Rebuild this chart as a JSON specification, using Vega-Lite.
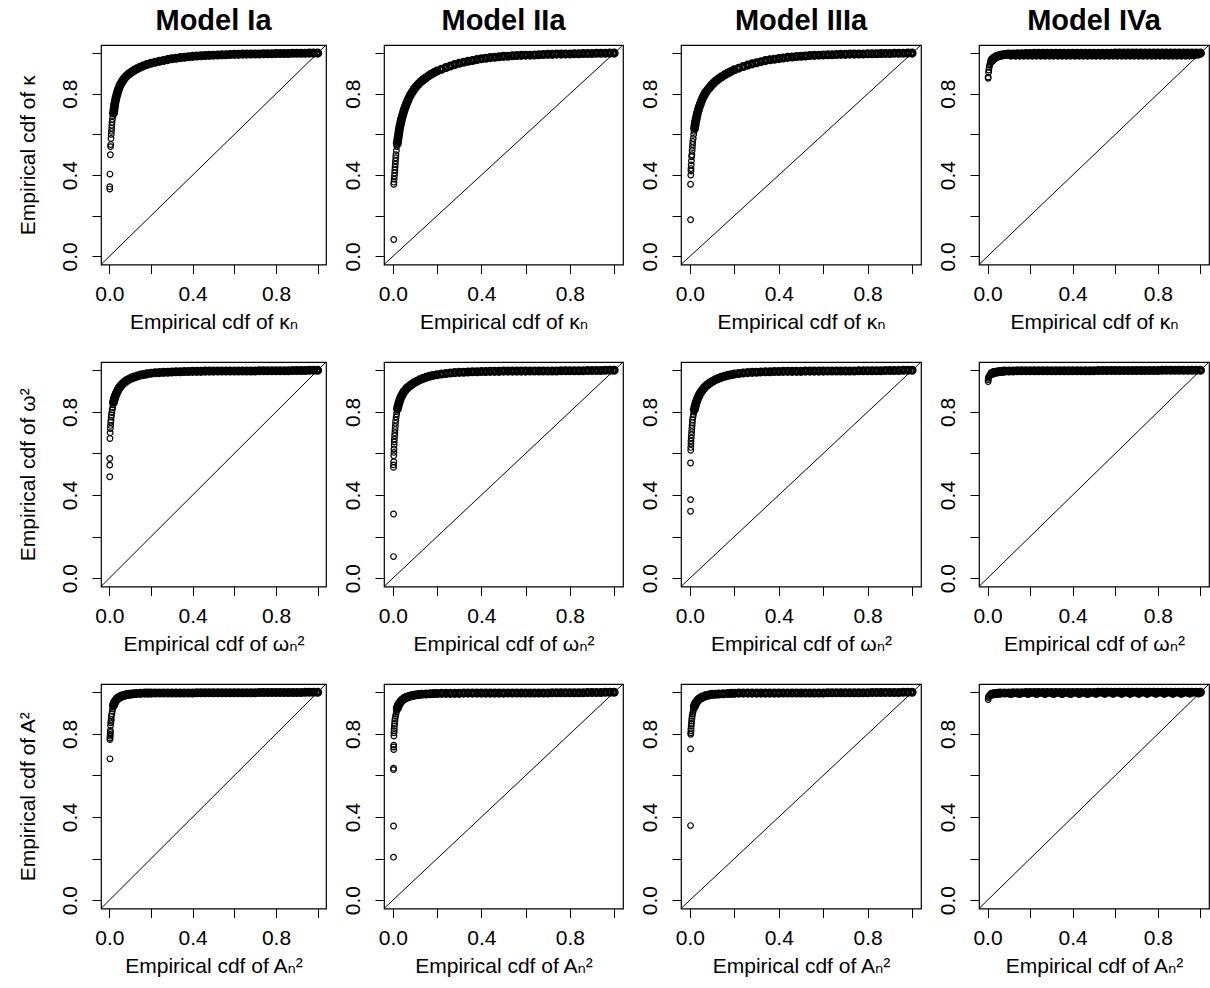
{
"$schema": "https://vega.github.io/schema/vega-lite/v6.json",
"padding": {"left": 16, "top": 6, "right": 0, "bottom": 0},
"background": "white",
"config": {
 "view": {"stroke": "black", "strokeWidth": 1.2},
 "font": "Liberation Sans",
 "axis": {"domain": false, "grid": false, "tickColor": "black", "tickSize": 9, "tickWidth": 1, "tickCount": 6,
  "labelExpr": "abs(datum.value) < 0.001 || abs(datum.value - 0.4) < 0.001 || abs(datum.value - 0.8) < 0.001 ? format(datum.value, '.1f') : ''",
  "labelFont": "Liberation Sans", "labelFontSize": 21, "labelColor": "black", "labelFlush": false, "labelOverlap": false,
  "titleFont": "Liberation Sans, DejaVu Sans", "titleFontSize": 21, "titleFontWeight": "normal", "titleColor": "black",
  "minExtent": 40, "maxExtent": 40, "titleBaseline": "alphabetic"},
 "axisX": {"labelPadding": 10, "labelBaseline": "top", "labelAngle": 0, "titlePadding": 24},
 "axisY": {"labelAngle": -90, "labelAlign": "center", "labelBaseline": "alphabetic", "labelPadding": 16, "titlePadding": 27, "titleAngle": -90},
 "title": {"font": "Liberation Sans", "fontSize": 29, "fontWeight": "bold", "color": "black", "anchor": "middle", "frame": "group", "baseline": "alphabetic", "offset": 7}
},
"datasets": {
 "diag": [{"x": -0.04, "y": -0.04}, {"x": 1.04, "y": 1.04}],
 "a11": [
  {"x":0.002,"y":0.331},{"x":0.002,"y":0.343},{"x":0.003,"y":0.405},{"x":0.005,"y":0.5},{"x":0.006,"y":0.54},{"x":0.007,"y":0.55},{"x":0.008,"y":0.58},{"x":0.009,"y":0.6},{"x":0.01,"y":0.615},{"x":0.011,"y":0.63},{"x":0.012,"y":0.645},{"x":0.013,"y":0.66},{"x":0.015,"y":0.675},{"x":0.017,"y":0.69},
  {"x":0.02,"y":0.705},{"x":0.022,"y":0.72},{"x":0.024,"y":0.735},{"x":0.026,"y":0.75},{"x":0.029,"y":0.765},{"x":0.032,"y":0.78},{"x":0.036,"y":0.795},{"x":0.04,"y":0.81},{"x":0.045,"y":0.825},{"x":0.05,"y":0.838},{"x":0.056,"y":0.85},{"x":0.063,"y":0.862},{"x":0.07,"y":0.873},{"x":0.078,"y":0.883},{"x":0.087,"y":0.892},{"x":0.097,"y":0.9},{"x":0.108,"y":0.908},{"x":0.12,"y":0.916},{"x":0.133,"y":0.923},{"x":0.147,"y":0.93},{"x":0.162,"y":0.937},{"x":0.18,"y":0.944},{"x":0.2,"y":0.95},
  {"x":0.22,"y":0.955},{"x":0.24,"y":0.96},{"x":0.26,"y":0.964},{"x":0.28,"y":0.968},{"x":0.3,"y":0.972},{"x":0.32,"y":0.975},{"x":0.34,"y":0.978},{"x":0.36,"y":0.98},{"x":0.38,"y":0.982},{"x":0.4,"y":0.984},{"x":0.42,"y":0.986},{"x":0.44,"y":0.987},{"x":0.46,"y":0.988},{"x":0.48,"y":0.989},{"x":0.5,"y":0.99},{"x":0.52,"y":0.991},{"x":0.54,"y":0.992},{"x":0.56,"y":0.992},{"x":0.58,"y":0.993},{"x":0.6,"y":0.994},{"x":0.62,"y":0.994},{"x":0.64,"y":0.995},{"x":0.66,"y":0.995},{"x":0.68,"y":0.996},{"x":0.7,"y":0.996},{"x":0.72,"y":0.996},{"x":0.74,"y":0.997},{"x":0.76,"y":0.997},{"x":0.78,"y":0.997},{"x":0.8,"y":0.998},{"x":0.82,"y":0.998},{"x":0.84,"y":0.998},{"x":0.86,"y":0.998},{"x":0.88,"y":0.999},{"x":0.9,"y":0.999},{"x":0.92,"y":0.999},{"x":0.94,"y":0.999},{"x":0.96,"y":1},{"x":0.98,"y":1},{"x":1,"y":1}
 ],
 "a12": [
  {"x":0.004,"y":0.083},{"x":0.004,"y":0.355},{"x":0.005,"y":0.365},{"x":0.006,"y":0.38},{"x":0.007,"y":0.395},{"x":0.008,"y":0.41},{"x":0.009,"y":0.425},{"x":0.01,"y":0.44},{"x":0.011,"y":0.455},{"x":0.012,"y":0.47},{"x":0.013,"y":0.485},{"x":0.014,"y":0.5},{"x":0.016,"y":0.52},{"x":0.018,"y":0.54},
  {"x":0.02,"y":0.555},{"x":0.022,"y":0.57},{"x":0.024,"y":0.585},{"x":0.026,"y":0.6},{"x":0.028,"y":0.615},{"x":0.03,"y":0.63},{"x":0.033,"y":0.645},{"x":0.036,"y":0.66},{"x":0.039,"y":0.675},{"x":0.043,"y":0.69},{"x":0.047,"y":0.705},{"x":0.051,"y":0.72},{"x":0.056,"y":0.735},{"x":0.061,"y":0.75},{"x":0.067,"y":0.765},{"x":0.073,"y":0.78},{"x":0.08,"y":0.795},{"x":0.088,"y":0.809},{"x":0.096,"y":0.822},{"x":0.105,"y":0.835},{"x":0.115,"y":0.847},{"x":0.125,"y":0.858},{"x":0.136,"y":0.868},{"x":0.148,"y":0.878},{"x":0.16,"y":0.887},{"x":0.173,"y":0.896},{"x":0.186,"y":0.904},{"x":0.2,"y":0.912},
  {"x":0.22,"y":0.921},{"x":0.24,"y":0.929},{"x":0.26,"y":0.937},{"x":0.28,"y":0.944},{"x":0.3,"y":0.95},{"x":0.32,"y":0.955},{"x":0.34,"y":0.96},{"x":0.36,"y":0.964},{"x":0.38,"y":0.968},{"x":0.4,"y":0.972},{"x":0.42,"y":0.975},{"x":0.44,"y":0.978},{"x":0.46,"y":0.98},{"x":0.48,"y":0.982},{"x":0.5,"y":0.984},{"x":0.52,"y":0.985},{"x":0.54,"y":0.987},{"x":0.56,"y":0.988},{"x":0.58,"y":0.989},{"x":0.6,"y":0.99},{"x":0.62,"y":0.99},{"x":0.64,"y":0.991},{"x":0.66,"y":0.992},{"x":0.68,"y":0.993},{"x":0.7,"y":0.994},{"x":0.72,"y":0.994},{"x":0.74,"y":0.995},{"x":0.76,"y":0.995},{"x":0.78,"y":0.996},{"x":0.8,"y":0.996},{"x":0.82,"y":0.997},{"x":0.84,"y":0.997},{"x":0.86,"y":0.998},{"x":0.88,"y":0.998},{"x":0.9,"y":0.998},{"x":0.92,"y":0.999},{"x":0.94,"y":0.999},{"x":0.96,"y":0.999},{"x":0.98,"y":1},{"x":1,"y":1}
 ],
 "a13": [
  {"x":0.003,"y":0.18},{"x":0.003,"y":0.355},{"x":0.004,"y":0.4},{"x":0.005,"y":0.42},{"x":0.005,"y":0.432},{"x":0.006,"y":0.45},{"x":0.007,"y":0.47},{"x":0.008,"y":0.49},{"x":0.009,"y":0.5},{"x":0.01,"y":0.52},{"x":0.011,"y":0.535},{"x":0.012,"y":0.55},{"x":0.013,"y":0.565},{"x":0.015,"y":0.58},{"x":0.017,"y":0.6},{"x":0.019,"y":0.615},
  {"x":0.021,"y":0.63},{"x":0.023,"y":0.645},{"x":0.025,"y":0.66},{"x":0.028,"y":0.675},{"x":0.031,"y":0.69},{"x":0.034,"y":0.705},{"x":0.038,"y":0.72},{"x":0.042,"y":0.735},{"x":0.047,"y":0.75},{"x":0.052,"y":0.765},{"x":0.058,"y":0.78},{"x":0.064,"y":0.793},{"x":0.071,"y":0.806},{"x":0.079,"y":0.818},{"x":0.088,"y":0.83},{"x":0.097,"y":0.842},{"x":0.107,"y":0.853},{"x":0.118,"y":0.864},{"x":0.13,"y":0.874},{"x":0.143,"y":0.884},{"x":0.157,"y":0.893},{"x":0.171,"y":0.902},{"x":0.185,"y":0.91},{"x":0.2,"y":0.918},
  {"x":0.22,"y":0.926},{"x":0.24,"y":0.934},{"x":0.26,"y":0.941},{"x":0.28,"y":0.947},{"x":0.3,"y":0.953},{"x":0.32,"y":0.958},{"x":0.34,"y":0.963},{"x":0.36,"y":0.967},{"x":0.38,"y":0.97},{"x":0.4,"y":0.973},{"x":0.42,"y":0.976},{"x":0.44,"y":0.979},{"x":0.46,"y":0.981},{"x":0.48,"y":0.983},{"x":0.5,"y":0.985},{"x":0.52,"y":0.986},{"x":0.54,"y":0.988},{"x":0.56,"y":0.989},{"x":0.58,"y":0.99},{"x":0.6,"y":0.991},{"x":0.62,"y":0.992},{"x":0.64,"y":0.992},{"x":0.66,"y":0.993},{"x":0.68,"y":0.994},{"x":0.7,"y":0.994},{"x":0.72,"y":0.995},{"x":0.74,"y":0.995},{"x":0.76,"y":0.996},{"x":0.78,"y":0.996},{"x":0.8,"y":0.997},{"x":0.82,"y":0.997},{"x":0.84,"y":0.997},{"x":0.86,"y":0.998},{"x":0.88,"y":0.998},{"x":0.9,"y":0.998},{"x":0.92,"y":0.999},{"x":0.94,"y":0.999},{"x":0.96,"y":0.999},{"x":0.98,"y":1},{"x":1,"y":1}
 ],
 "a14": [
  {"x":0.003,"y":0.876},{"x":0.003,"y":0.882},{"x":0.005,"y":0.905},{"x":0.006,"y":0.917},{"x":0.008,"y":0.93},{"x":0.01,"y":0.94},{"x":0.012,"y":0.948},{"x":0.015,"y":0.955},{"x":0.018,"y":0.96},
  {"x":0.02,"y":0.964},{"x":0.025,"y":0.97},{"x":0.03,"y":0.975},{"x":0.036,"y":0.979},{"x":0.043,"y":0.983},{"x":0.05,"y":0.986},{"x":0.06,"y":0.989},{"x":0.07,"y":0.991},{"x":0.08,"y":0.993},{"x":0.09,"y":0.994},{"x":0.1,"y":0.995},{"x":0.12,"y":0.996},{"x":0.14,"y":0.997},{"x":0.16,"y":0.997},{"x":0.18,"y":0.998},{"x":0.2,"y":0.998},
  {"x":0.22,"y":0.999},{"x":0.24,"y":0.999},{"x":0.26,"y":0.999},{"x":0.28,"y":0.999},{"x":0.3,"y":0.999},{"x":0.32,"y":0.999},{"x":0.34,"y":0.999},{"x":0.36,"y":0.999},{"x":0.38,"y":0.999},{"x":0.4,"y":0.999},{"x":0.42,"y":0.999},{"x":0.44,"y":0.999},{"x":0.46,"y":0.999},{"x":0.48,"y":0.999},{"x":0.5,"y":0.999},{"x":0.52,"y":0.999},{"x":0.54,"y":0.999},{"x":0.56,"y":0.999},{"x":0.58,"y":0.999},{"x":0.6,"y":1},{"x":0.62,"y":1},{"x":0.64,"y":1},{"x":0.66,"y":1},{"x":0.68,"y":1},{"x":0.7,"y":1},{"x":0.72,"y":1},{"x":0.74,"y":1},{"x":0.76,"y":1},{"x":0.78,"y":1},{"x":0.8,"y":1},{"x":0.82,"y":1},{"x":0.84,"y":1},{"x":0.86,"y":1},{"x":0.88,"y":1},{"x":0.9,"y":1},{"x":0.92,"y":1},{"x":0.94,"y":1},{"x":0.96,"y":1},{"x":0.98,"y":1},{"x":1,"y":1},
  {"x":0.11,"y":0.99},{"x":0.13,"y":0.99},{"x":0.15,"y":0.99},{"x":0.17,"y":0.99},{"x":0.19,"y":0.99},{"x":0.21,"y":0.99},{"x":0.23,"y":0.99},{"x":0.25,"y":0.99},{"x":0.27,"y":0.99},{"x":0.29,"y":0.99},{"x":0.31,"y":0.99},{"x":0.33,"y":0.99},{"x":0.35,"y":0.99},{"x":0.37,"y":0.99},{"x":0.39,"y":0.99},{"x":0.41,"y":0.99},{"x":0.43,"y":0.99},{"x":0.45,"y":0.99},{"x":0.47,"y":0.99},{"x":0.49,"y":0.99},{"x":0.51,"y":0.99},{"x":0.53,"y":0.99},{"x":0.55,"y":0.99},{"x":0.57,"y":0.99},{"x":0.59,"y":0.99},{"x":0.61,"y":0.99},{"x":0.63,"y":0.99},{"x":0.65,"y":0.99},{"x":0.67,"y":0.99},{"x":0.69,"y":0.99},{"x":0.71,"y":0.99},{"x":0.73,"y":0.99},{"x":0.75,"y":0.99},{"x":0.77,"y":0.99},{"x":0.79,"y":0.99},{"x":0.81,"y":0.99},{"x":0.83,"y":0.99},{"x":0.85,"y":0.99},{"x":0.87,"y":0.99},{"x":0.89,"y":0.99},{"x":0.91,"y":0.99},{"x":0.93,"y":0.99},{"x":0.95,"y":0.991},{"x":0.97,"y":0.992},{"x":0.99,"y":0.995}
 ],
 "a21": [
  {"x":0.002,"y":0.488},{"x":0.002,"y":0.544},{"x":0.002,"y":0.576},{"x":0.003,"y":0.672},{"x":0.004,"y":0.7},{"x":0.005,"y":0.72},{"x":0.006,"y":0.735},{"x":0.007,"y":0.75},{"x":0.008,"y":0.76},{"x":0.009,"y":0.775},{"x":0.01,"y":0.785},{"x":0.012,"y":0.797},{"x":0.014,"y":0.81},{"x":0.016,"y":0.822},{"x":0.018,"y":0.834},
  {"x":0.02,"y":0.846},{"x":0.023,"y":0.858},{"x":0.026,"y":0.869},{"x":0.03,"y":0.88},{"x":0.034,"y":0.89},{"x":0.039,"y":0.9},{"x":0.044,"y":0.91},{"x":0.05,"y":0.919},{"x":0.057,"y":0.928},{"x":0.065,"y":0.936},{"x":0.074,"y":0.944},{"x":0.084,"y":0.951},{"x":0.095,"y":0.957},{"x":0.107,"y":0.963},{"x":0.12,"y":0.968},{"x":0.135,"y":0.973},{"x":0.15,"y":0.977},{"x":0.165,"y":0.98},{"x":0.18,"y":0.983},{"x":0.2,"y":0.986},
  {"x":0.22,"y":0.988},{"x":0.24,"y":0.989},{"x":0.26,"y":0.99},{"x":0.28,"y":0.991},{"x":0.3,"y":0.992},{"x":0.32,"y":0.993},{"x":0.34,"y":0.993},{"x":0.36,"y":0.994},{"x":0.38,"y":0.994},{"x":0.4,"y":0.995},{"x":0.42,"y":0.995},{"x":0.44,"y":0.995},{"x":0.46,"y":0.996},{"x":0.48,"y":0.996},{"x":0.5,"y":0.996},{"x":0.52,"y":0.997},{"x":0.54,"y":0.997},{"x":0.56,"y":0.997},{"x":0.58,"y":0.997},{"x":0.6,"y":0.997},{"x":0.62,"y":0.997},{"x":0.64,"y":0.997},{"x":0.66,"y":0.997},{"x":0.68,"y":0.997},{"x":0.7,"y":0.997},{"x":0.72,"y":0.998},{"x":0.74,"y":0.998},{"x":0.76,"y":0.998},{"x":0.78,"y":0.998},{"x":0.8,"y":0.998},{"x":0.82,"y":0.998},{"x":0.84,"y":0.998},{"x":0.86,"y":0.998},{"x":0.88,"y":0.999},{"x":0.9,"y":0.999},{"x":0.92,"y":0.999},{"x":0.94,"y":0.999},{"x":0.96,"y":1},{"x":0.98,"y":1},{"x":1,"y":1}
 ],
 "a22": [
  {"x":0.003,"y":0.104},{"x":0.003,"y":0.309},{"x":0.003,"y":0.533},{"x":0.003,"y":0.545},{"x":0.004,"y":0.56},{"x":0.004,"y":0.589},{"x":0.005,"y":0.605},{"x":0.005,"y":0.621},{"x":0.006,"y":0.64},{"x":0.006,"y":0.655},{"x":0.007,"y":0.669},{"x":0.008,"y":0.685},{"x":0.009,"y":0.7},{"x":0.01,"y":0.715},{"x":0.011,"y":0.73},{"x":0.012,"y":0.745},{"x":0.013,"y":0.76},{"x":0.015,"y":0.775},{"x":0.017,"y":0.79},{"x":0.019,"y":0.803},
  {"x":0.021,"y":0.816},{"x":0.024,"y":0.829},{"x":0.027,"y":0.842},{"x":0.031,"y":0.855},{"x":0.035,"y":0.867},{"x":0.04,"y":0.878},{"x":0.045,"y":0.888},{"x":0.051,"y":0.898},{"x":0.058,"y":0.907},{"x":0.066,"y":0.916},{"x":0.075,"y":0.924},{"x":0.085,"y":0.932},{"x":0.096,"y":0.94},{"x":0.108,"y":0.947},{"x":0.121,"y":0.954},{"x":0.135,"y":0.96},{"x":0.15,"y":0.966},{"x":0.165,"y":0.971},{"x":0.18,"y":0.975},{"x":0.2,"y":0.979},
  {"x":0.22,"y":0.982},{"x":0.24,"y":0.985},{"x":0.26,"y":0.987},{"x":0.28,"y":0.989},{"x":0.3,"y":0.99},{"x":0.32,"y":0.991},{"x":0.34,"y":0.992},{"x":0.36,"y":0.993},{"x":0.38,"y":0.993},{"x":0.4,"y":0.994},{"x":0.42,"y":0.994},{"x":0.44,"y":0.995},{"x":0.46,"y":0.995},{"x":0.48,"y":0.995},{"x":0.5,"y":0.996},{"x":0.52,"y":0.996},{"x":0.54,"y":0.996},{"x":0.56,"y":0.996},{"x":0.58,"y":0.996},{"x":0.6,"y":0.996},{"x":0.62,"y":0.997},{"x":0.64,"y":0.997},{"x":0.66,"y":0.997},{"x":0.68,"y":0.997},{"x":0.7,"y":0.997},{"x":0.72,"y":0.997},{"x":0.74,"y":0.997},{"x":0.76,"y":0.998},{"x":0.78,"y":0.998},{"x":0.8,"y":0.998},{"x":0.82,"y":0.998},{"x":0.84,"y":0.998},{"x":0.86,"y":0.998},{"x":0.88,"y":0.999},{"x":0.9,"y":0.999},{"x":0.92,"y":0.999},{"x":0.94,"y":0.999},{"x":0.96,"y":1},{"x":0.98,"y":1},{"x":1,"y":1}
 ],
 "a23": [
  {"x":0.003,"y":0.322},{"x":0.003,"y":0.378},{"x":0.003,"y":0.554},{"x":0.004,"y":0.615},{"x":0.004,"y":0.629},{"x":0.005,"y":0.645},{"x":0.005,"y":0.66},{"x":0.006,"y":0.675},{"x":0.007,"y":0.69},{"x":0.008,"y":0.705},{"x":0.009,"y":0.72},{"x":0.01,"y":0.735},{"x":0.011,"y":0.749},{"x":0.012,"y":0.762},{"x":0.014,"y":0.775},{"x":0.016,"y":0.787},{"x":0.018,"y":0.799},
  {"x":0.02,"y":0.811},{"x":0.023,"y":0.824},{"x":0.026,"y":0.837},{"x":0.03,"y":0.85},{"x":0.034,"y":0.862},{"x":0.039,"y":0.874},{"x":0.044,"y":0.885},{"x":0.05,"y":0.896},{"x":0.057,"y":0.906},{"x":0.064,"y":0.915},{"x":0.072,"y":0.924},{"x":0.081,"y":0.932},{"x":0.091,"y":0.94},{"x":0.102,"y":0.947},{"x":0.114,"y":0.954},{"x":0.127,"y":0.96},{"x":0.141,"y":0.966},{"x":0.156,"y":0.971},{"x":0.172,"y":0.976},{"x":0.186,"y":0.979},{"x":0.2,"y":0.982},
  {"x":0.22,"y":0.985},{"x":0.24,"y":0.987},{"x":0.26,"y":0.989},{"x":0.28,"y":0.99},{"x":0.3,"y":0.991},{"x":0.32,"y":0.992},{"x":0.34,"y":0.993},{"x":0.36,"y":0.993},{"x":0.38,"y":0.994},{"x":0.4,"y":0.994},{"x":0.42,"y":0.995},{"x":0.44,"y":0.995},{"x":0.46,"y":0.995},{"x":0.48,"y":0.995},{"x":0.5,"y":0.995},{"x":0.52,"y":0.996},{"x":0.54,"y":0.996},{"x":0.56,"y":0.996},{"x":0.58,"y":0.996},{"x":0.6,"y":0.996},{"x":0.62,"y":0.997},{"x":0.64,"y":0.997},{"x":0.66,"y":0.997},{"x":0.68,"y":0.997},{"x":0.7,"y":0.997},{"x":0.72,"y":0.997},{"x":0.74,"y":0.997},{"x":0.76,"y":0.998},{"x":0.78,"y":0.998},{"x":0.8,"y":0.998},{"x":0.82,"y":0.998},{"x":0.84,"y":0.998},{"x":0.86,"y":0.998},{"x":0.88,"y":0.999},{"x":0.9,"y":0.999},{"x":0.92,"y":0.999},{"x":0.94,"y":0.999},{"x":0.96,"y":1},{"x":0.98,"y":1},{"x":1,"y":1}
 ],
 "a24": [
  {"x":0.003,"y":0.946},{"x":0.003,"y":0.955},{"x":0.004,"y":0.962},{"x":0.006,"y":0.968},{"x":0.008,"y":0.973},{"x":0.011,"y":0.977},{"x":0.014,"y":0.98},{"x":0.017,"y":0.983},
  {"x":0.02,"y":0.985},{"x":0.025,"y":0.987},{"x":0.03,"y":0.989},{"x":0.04,"y":0.991},{"x":0.05,"y":0.993},{"x":0.06,"y":0.994},{"x":0.07,"y":0.995},{"x":0.08,"y":0.996},{"x":0.1,"y":0.997},{"x":0.12,"y":0.997},{"x":0.14,"y":0.998},{"x":0.16,"y":0.998},{"x":0.18,"y":0.998},{"x":0.2,"y":0.998},
  {"x":0.22,"y":0.998},{"x":0.24,"y":0.998},{"x":0.26,"y":0.998},{"x":0.28,"y":0.998},{"x":0.3,"y":0.998},{"x":0.32,"y":0.998},{"x":0.34,"y":0.998},{"x":0.36,"y":0.998},{"x":0.38,"y":0.998},{"x":0.4,"y":0.998},{"x":0.42,"y":0.998},{"x":0.44,"y":0.998},{"x":0.46,"y":0.998},{"x":0.48,"y":0.998},{"x":0.5,"y":0.998},{"x":0.52,"y":0.999},{"x":0.54,"y":0.999},{"x":0.56,"y":0.999},{"x":0.58,"y":0.999},{"x":0.6,"y":0.999},{"x":0.62,"y":0.999},{"x":0.64,"y":0.999},{"x":0.66,"y":0.999},{"x":0.68,"y":0.999},{"x":0.7,"y":0.999},{"x":0.72,"y":0.999},{"x":0.74,"y":0.999},{"x":0.76,"y":0.999},{"x":0.78,"y":0.999},{"x":0.8,"y":0.999},{"x":0.82,"y":1},{"x":0.84,"y":1},{"x":0.86,"y":1},{"x":0.88,"y":1},{"x":0.9,"y":1},{"x":0.92,"y":1},{"x":0.94,"y":1},{"x":0.96,"y":1},{"x":0.98,"y":1},{"x":1,"y":1}
 ],
 "a31": [
  {"x":0.003,"y":0.68},{"x":0.003,"y":0.773},{"x":0.003,"y":0.78},{"x":0.004,"y":0.789},{"x":0.004,"y":0.797},{"x":0.005,"y":0.807},{"x":0.005,"y":0.817},{"x":0.006,"y":0.84},{"x":0.007,"y":0.853},{"x":0.008,"y":0.861},{"x":0.009,"y":0.869},{"x":0.01,"y":0.885},{"x":0.012,"y":0.897},{"x":0.014,"y":0.909},{"x":0.016,"y":0.92},{"x":0.018,"y":0.93},
  {"x":0.02,"y":0.938},{"x":0.023,"y":0.946},{"x":0.026,"y":0.953},{"x":0.03,"y":0.959},{"x":0.035,"y":0.965},{"x":0.04,"y":0.97},{"x":0.046,"y":0.975},{"x":0.053,"y":0.979},{"x":0.06,"y":0.982},{"x":0.07,"y":0.985},{"x":0.08,"y":0.988},{"x":0.09,"y":0.99},{"x":0.1,"y":0.991},{"x":0.115,"y":0.993},{"x":0.13,"y":0.994},{"x":0.15,"y":0.995},{"x":0.17,"y":0.996},{"x":0.185,"y":0.996},{"x":0.2,"y":0.996},
  {"x":0.22,"y":0.997},{"x":0.24,"y":0.997},{"x":0.26,"y":0.997},{"x":0.28,"y":0.997},{"x":0.3,"y":0.997},{"x":0.32,"y":0.997},{"x":0.34,"y":0.997},{"x":0.36,"y":0.997},{"x":0.38,"y":0.997},{"x":0.4,"y":0.997},{"x":0.42,"y":0.998},{"x":0.44,"y":0.998},{"x":0.46,"y":0.998},{"x":0.48,"y":0.998},{"x":0.5,"y":0.998},{"x":0.52,"y":0.998},{"x":0.54,"y":0.998},{"x":0.56,"y":0.998},{"x":0.58,"y":0.998},{"x":0.6,"y":0.998},{"x":0.62,"y":0.998},{"x":0.64,"y":0.998},{"x":0.66,"y":0.998},{"x":0.68,"y":0.998},{"x":0.7,"y":0.998},{"x":0.72,"y":0.999},{"x":0.74,"y":0.999},{"x":0.76,"y":0.999},{"x":0.78,"y":0.999},{"x":0.8,"y":0.999},{"x":0.82,"y":0.999},{"x":0.84,"y":0.999},{"x":0.86,"y":0.999},{"x":0.88,"y":0.999},{"x":0.9,"y":0.999},{"x":0.92,"y":0.999},{"x":0.94,"y":1},{"x":0.96,"y":1},{"x":0.98,"y":1},{"x":1,"y":1}
 ],
 "a32": [
  {"x":0.003,"y":0.207},{"x":0.003,"y":0.357},{"x":0.003,"y":0.628},{"x":0.003,"y":0.635},{"x":0.004,"y":0.725},{"x":0.004,"y":0.737},{"x":0.004,"y":0.746},{"x":0.005,"y":0.79},{"x":0.005,"y":0.805},{"x":0.006,"y":0.815},{"x":0.006,"y":0.825},{"x":0.007,"y":0.838},{"x":0.008,"y":0.85},{"x":0.009,"y":0.862},{"x":0.01,"y":0.873},{"x":0.012,"y":0.884},{"x":0.014,"y":0.895},{"x":0.016,"y":0.905},{"x":0.018,"y":0.915},
  {"x":0.02,"y":0.923},{"x":0.023,"y":0.932},{"x":0.026,"y":0.94},{"x":0.03,"y":0.947},{"x":0.035,"y":0.954},{"x":0.04,"y":0.96},{"x":0.046,"y":0.966},{"x":0.053,"y":0.971},{"x":0.06,"y":0.975},{"x":0.07,"y":0.979},{"x":0.08,"y":0.982},{"x":0.09,"y":0.985},{"x":0.1,"y":0.987},{"x":0.115,"y":0.989},{"x":0.13,"y":0.991},{"x":0.15,"y":0.992},{"x":0.17,"y":0.993},{"x":0.185,"y":0.994},{"x":0.2,"y":0.994},
  {"x":0.22,"y":0.995},{"x":0.24,"y":0.995},{"x":0.26,"y":0.995},{"x":0.28,"y":0.995},{"x":0.3,"y":0.995},{"x":0.32,"y":0.996},{"x":0.34,"y":0.996},{"x":0.36,"y":0.996},{"x":0.38,"y":0.996},{"x":0.4,"y":0.996},{"x":0.42,"y":0.996},{"x":0.44,"y":0.996},{"x":0.46,"y":0.996},{"x":0.48,"y":0.996},{"x":0.5,"y":0.996},{"x":0.52,"y":0.997},{"x":0.54,"y":0.997},{"x":0.56,"y":0.997},{"x":0.58,"y":0.997},{"x":0.6,"y":0.997},{"x":0.62,"y":0.997},{"x":0.64,"y":0.997},{"x":0.66,"y":0.997},{"x":0.68,"y":0.997},{"x":0.7,"y":0.997},{"x":0.72,"y":0.998},{"x":0.74,"y":0.998},{"x":0.76,"y":0.998},{"x":0.78,"y":0.998},{"x":0.8,"y":0.998},{"x":0.82,"y":0.998},{"x":0.84,"y":0.998},{"x":0.86,"y":0.998},{"x":0.88,"y":0.999},{"x":0.9,"y":0.999},{"x":0.92,"y":0.999},{"x":0.94,"y":0.999},{"x":0.96,"y":1},{"x":0.98,"y":1},{"x":1,"y":1}
 ],
 "a33": [
  {"x":0.003,"y":0.359},{"x":0.003,"y":0.728},{"x":0.004,"y":0.798},{"x":0.004,"y":0.805},{"x":0.005,"y":0.815},{"x":0.005,"y":0.825},{"x":0.006,"y":0.838},{"x":0.007,"y":0.85},{"x":0.008,"y":0.862},{"x":0.009,"y":0.873},{"x":0.01,"y":0.884},{"x":0.012,"y":0.895},{"x":0.014,"y":0.905},{"x":0.016,"y":0.915},{"x":0.018,"y":0.924},
  {"x":0.02,"y":0.932},{"x":0.023,"y":0.94},{"x":0.026,"y":0.947},{"x":0.03,"y":0.954},{"x":0.035,"y":0.96},{"x":0.04,"y":0.966},{"x":0.046,"y":0.971},{"x":0.053,"y":0.975},{"x":0.06,"y":0.979},{"x":0.07,"y":0.983},{"x":0.08,"y":0.986},{"x":0.09,"y":0.988},{"x":0.1,"y":0.99},{"x":0.115,"y":0.991},{"x":0.13,"y":0.992},{"x":0.15,"y":0.993},{"x":0.17,"y":0.994},{"x":0.185,"y":0.995},{"x":0.2,"y":0.995},
  {"x":0.22,"y":0.996},{"x":0.24,"y":0.996},{"x":0.26,"y":0.996},{"x":0.28,"y":0.996},{"x":0.3,"y":0.996},{"x":0.32,"y":0.996},{"x":0.34,"y":0.996},{"x":0.36,"y":0.996},{"x":0.38,"y":0.996},{"x":0.4,"y":0.996},{"x":0.42,"y":0.997},{"x":0.44,"y":0.997},{"x":0.46,"y":0.997},{"x":0.48,"y":0.997},{"x":0.5,"y":0.997},{"x":0.52,"y":0.997},{"x":0.54,"y":0.997},{"x":0.56,"y":0.997},{"x":0.58,"y":0.997},{"x":0.6,"y":0.997},{"x":0.62,"y":0.998},{"x":0.64,"y":0.998},{"x":0.66,"y":0.998},{"x":0.68,"y":0.998},{"x":0.7,"y":0.998},{"x":0.72,"y":0.998},{"x":0.74,"y":0.998},{"x":0.76,"y":0.998},{"x":0.78,"y":0.998},{"x":0.8,"y":0.998},{"x":0.82,"y":0.999},{"x":0.84,"y":0.999},{"x":0.86,"y":0.999},{"x":0.88,"y":0.999},{"x":0.9,"y":0.999},{"x":0.92,"y":0.999},{"x":0.94,"y":0.999},{"x":0.96,"y":1},{"x":0.98,"y":1},{"x":1,"y":1}
 ],
 "a34": [
  {"x":0.003,"y":0.965},{"x":0.004,"y":0.975},{"x":0.006,"y":0.981},{"x":0.009,"y":0.985},{"x":0.013,"y":0.988},{"x":0.017,"y":0.99},
  {"x":0.02,"y":0.991},{"x":0.03,"y":0.993},{"x":0.04,"y":0.994},{"x":0.05,"y":0.995},{"x":0.06,"y":0.996},{"x":0.08,"y":0.997},{"x":0.1,"y":0.997},{"x":0.12,"y":0.998},{"x":0.14,"y":0.998},{"x":0.16,"y":0.998},{"x":0.18,"y":0.999},{"x":0.2,"y":0.999},
  {"x":0.22,"y":0.999},{"x":0.24,"y":0.999},{"x":0.26,"y":0.999},{"x":0.28,"y":0.999},{"x":0.3,"y":0.999},{"x":0.32,"y":0.999},{"x":0.34,"y":0.999},{"x":0.36,"y":0.999},{"x":0.38,"y":0.999},{"x":0.4,"y":0.999},{"x":0.42,"y":0.999},{"x":0.44,"y":0.999},{"x":0.46,"y":0.999},{"x":0.48,"y":0.999},{"x":0.5,"y":0.999},{"x":0.52,"y":1},{"x":0.54,"y":1},{"x":0.56,"y":1},{"x":0.58,"y":1},{"x":0.6,"y":1},{"x":0.62,"y":1},{"x":0.64,"y":1},{"x":0.66,"y":1},{"x":0.68,"y":1},{"x":0.7,"y":1},{"x":0.72,"y":1},{"x":0.74,"y":1},{"x":0.76,"y":1},{"x":0.78,"y":1},{"x":0.8,"y":1},{"x":0.82,"y":1},{"x":0.84,"y":1},{"x":0.86,"y":1},{"x":0.88,"y":1},{"x":0.9,"y":1},{"x":0.92,"y":1},{"x":0.94,"y":1},{"x":0.96,"y":1},{"x":0.98,"y":1},{"x":1,"y":1},
  {"x":0.11,"y":0.994},{"x":0.15,"y":0.994},{"x":0.19,"y":0.994},{"x":0.23,"y":0.994},{"x":0.27,"y":0.994},{"x":0.31,"y":0.994},{"x":0.35,"y":0.994},{"x":0.39,"y":0.994},{"x":0.43,"y":0.994},{"x":0.47,"y":0.994},{"x":0.51,"y":0.995},{"x":0.55,"y":0.995},{"x":0.59,"y":0.995},{"x":0.63,"y":0.995},{"x":0.67,"y":0.995},{"x":0.71,"y":0.995},{"x":0.75,"y":0.995},{"x":0.79,"y":0.995},{"x":0.83,"y":0.995},{"x":0.87,"y":0.995},{"x":0.91,"y":0.995},{"x":0.95,"y":0.996},{"x":0.99,"y":0.997}
 ]
},
"columns": 4,
"spacing": {"row": 97, "column": 58},
"bounds": "flush",
"align": "each",
"concat": [
  {"width": 225, "height": 219.5, "title": "Model Ia",
   "encoding": {"x": {"field": "x", "type": "quantitative", "scale": {"domain": [-0.04, 1.04], "nice": false, "zero": false}, "axis": {"title": "Empirical cdf of κₙ"}},
                "y": {"field": "y", "type": "quantitative", "scale": {"domain": [-0.04, 1.04], "nice": false, "zero": false}, "axis": {"title": "Empirical cdf of κ"}}},
   "layer": [
    {"data": {"name": "diag"}, "mark": {"type": "line", "color": "black", "strokeWidth": 1}, "encoding": {}},
    {"data": {"name": "a11"}, "mark": {"type": "point", "shape": "circle", "filled": false, "color": "black", "opacity": 1, "size": 32}, "encoding": {"strokeWidth": {"condition": {"test": "datum.x >= 0.02", "value": 3.4}, "value": 1.2}}}
   ]},
  {"width": 239, "height": 219.5, "title": "Model IIa",
   "encoding": {"x": {"field": "x", "type": "quantitative", "scale": {"domain": [-0.04, 1.04], "nice": false, "zero": false}, "axis": {"title": "Empirical cdf of κₙ"}},
                "y": {"field": "y", "type": "quantitative", "scale": {"domain": [-0.04, 1.04], "nice": false, "zero": false}, "axis": {"title": null}}},
   "layer": [
    {"data": {"name": "diag"}, "mark": {"type": "line", "color": "black", "strokeWidth": 1}, "encoding": {}},
    {"data": {"name": "a12"}, "mark": {"type": "point", "shape": "circle", "filled": false, "color": "black", "opacity": 1, "size": 32}, "encoding": {"strokeWidth": {"condition": {"test": "datum.x >= 0.02", "value": 3.4}, "value": 1.2}}}
   ]},
  {"width": 240, "height": 219.5, "title": "Model IIIa",
   "encoding": {"x": {"field": "x", "type": "quantitative", "scale": {"domain": [-0.04, 1.04], "nice": false, "zero": false}, "axis": {"title": "Empirical cdf of κₙ"}},
                "y": {"field": "y", "type": "quantitative", "scale": {"domain": [-0.04, 1.04], "nice": false, "zero": false}, "axis": {"title": null}}},
   "layer": [
    {"data": {"name": "diag"}, "mark": {"type": "line", "color": "black", "strokeWidth": 1}, "encoding": {}},
    {"data": {"name": "a13"}, "mark": {"type": "point", "shape": "circle", "filled": false, "color": "black", "opacity": 1, "size": 32}, "encoding": {"strokeWidth": {"condition": {"test": "datum.x >= 0.02", "value": 3.4}, "value": 1.2}}}
   ]},
  {"width": 230, "height": 219.5, "title": "Model IVa",
   "encoding": {"x": {"field": "x", "type": "quantitative", "scale": {"domain": [-0.04, 1.04], "nice": false, "zero": false}, "axis": {"title": "Empirical cdf of κₙ"}},
                "y": {"field": "y", "type": "quantitative", "scale": {"domain": [-0.04, 1.04], "nice": false, "zero": false}, "axis": {"title": null}}},
   "layer": [
    {"data": {"name": "diag"}, "mark": {"type": "line", "color": "black", "strokeWidth": 1}, "encoding": {}},
    {"data": {"name": "a14"}, "mark": {"type": "point", "shape": "circle", "filled": false, "color": "black", "opacity": 1, "size": 32}, "encoding": {"strokeWidth": {"condition": {"test": "datum.x >= 0.02", "value": 3.4}, "value": 1.2}}}
   ]},
  {"width": 225, "height": 224.5,
   "encoding": {"x": {"field": "x", "type": "quantitative", "scale": {"domain": [-0.04, 1.04], "nice": false, "zero": false}, "axis": {"title": "Empirical cdf of ωₙ²"}},
                "y": {"field": "y", "type": "quantitative", "scale": {"domain": [-0.04, 1.04], "nice": false, "zero": false}, "axis": {"title": "Empirical cdf of ω²"}}},
   "layer": [
    {"data": {"name": "diag"}, "mark": {"type": "line", "color": "black", "strokeWidth": 1}, "encoding": {}},
    {"data": {"name": "a21"}, "mark": {"type": "point", "shape": "circle", "filled": false, "color": "black", "opacity": 1, "size": 32}, "encoding": {"strokeWidth": {"condition": {"test": "datum.x >= 0.02", "value": 3.4}, "value": 1.2}}}
   ]},
  {"width": 239, "height": 224.5,
   "encoding": {"x": {"field": "x", "type": "quantitative", "scale": {"domain": [-0.04, 1.04], "nice": false, "zero": false}, "axis": {"title": "Empirical cdf of ωₙ²"}},
                "y": {"field": "y", "type": "quantitative", "scale": {"domain": [-0.04, 1.04], "nice": false, "zero": false}, "axis": {"title": null}}},
   "layer": [
    {"data": {"name": "diag"}, "mark": {"type": "line", "color": "black", "strokeWidth": 1}, "encoding": {}},
    {"data": {"name": "a22"}, "mark": {"type": "point", "shape": "circle", "filled": false, "color": "black", "opacity": 1, "size": 32}, "encoding": {"strokeWidth": {"condition": {"test": "datum.x >= 0.02", "value": 3.4}, "value": 1.2}}}
   ]},
  {"width": 240, "height": 224.5,
   "encoding": {"x": {"field": "x", "type": "quantitative", "scale": {"domain": [-0.04, 1.04], "nice": false, "zero": false}, "axis": {"title": "Empirical cdf of ωₙ²"}},
                "y": {"field": "y", "type": "quantitative", "scale": {"domain": [-0.04, 1.04], "nice": false, "zero": false}, "axis": {"title": null}}},
   "layer": [
    {"data": {"name": "diag"}, "mark": {"type": "line", "color": "black", "strokeWidth": 1}, "encoding": {}},
    {"data": {"name": "a23"}, "mark": {"type": "point", "shape": "circle", "filled": false, "color": "black", "opacity": 1, "size": 32}, "encoding": {"strokeWidth": {"condition": {"test": "datum.x >= 0.02", "value": 3.4}, "value": 1.2}}}
   ]},
  {"width": 230, "height": 224.5,
   "encoding": {"x": {"field": "x", "type": "quantitative", "scale": {"domain": [-0.04, 1.04], "nice": false, "zero": false}, "axis": {"title": "Empirical cdf of ωₙ²"}},
                "y": {"field": "y", "type": "quantitative", "scale": {"domain": [-0.04, 1.04], "nice": false, "zero": false}, "axis": {"title": null}}},
   "layer": [
    {"data": {"name": "diag"}, "mark": {"type": "line", "color": "black", "strokeWidth": 1}, "encoding": {}},
    {"data": {"name": "a24"}, "mark": {"type": "point", "shape": "circle", "filled": false, "color": "black", "opacity": 1, "size": 32}, "encoding": {"strokeWidth": {"condition": {"test": "datum.x >= 0.02", "value": 3.4}, "value": 1.2}}}
   ]},
  {"width": 225, "height": 224.5,
   "encoding": {"x": {"field": "x", "type": "quantitative", "scale": {"domain": [-0.04, 1.04], "nice": false, "zero": false}, "axis": {"title": "Empirical cdf of Aₙ²"}},
                "y": {"field": "y", "type": "quantitative", "scale": {"domain": [-0.04, 1.04], "nice": false, "zero": false}, "axis": {"title": "Empirical cdf of A²"}}},
   "layer": [
    {"data": {"name": "diag"}, "mark": {"type": "line", "color": "black", "strokeWidth": 1}, "encoding": {}},
    {"data": {"name": "a31"}, "mark": {"type": "point", "shape": "circle", "filled": false, "color": "black", "opacity": 1, "size": 32}, "encoding": {"strokeWidth": {"condition": {"test": "datum.x >= 0.02", "value": 3.4}, "value": 1.2}}}
   ]},
  {"width": 239, "height": 224.5,
   "encoding": {"x": {"field": "x", "type": "quantitative", "scale": {"domain": [-0.04, 1.04], "nice": false, "zero": false}, "axis": {"title": "Empirical cdf of Aₙ²"}},
                "y": {"field": "y", "type": "quantitative", "scale": {"domain": [-0.04, 1.04], "nice": false, "zero": false}, "axis": {"title": null}}},
   "layer": [
    {"data": {"name": "diag"}, "mark": {"type": "line", "color": "black", "strokeWidth": 1}, "encoding": {}},
    {"data": {"name": "a32"}, "mark": {"type": "point", "shape": "circle", "filled": false, "color": "black", "opacity": 1, "size": 32}, "encoding": {"strokeWidth": {"condition": {"test": "datum.x >= 0.02", "value": 3.4}, "value": 1.2}}}
   ]},
  {"width": 240, "height": 224.5,
   "encoding": {"x": {"field": "x", "type": "quantitative", "scale": {"domain": [-0.04, 1.04], "nice": false, "zero": false}, "axis": {"title": "Empirical cdf of Aₙ²"}},
                "y": {"field": "y", "type": "quantitative", "scale": {"domain": [-0.04, 1.04], "nice": false, "zero": false}, "axis": {"title": null}}},
   "layer": [
    {"data": {"name": "diag"}, "mark": {"type": "line", "color": "black", "strokeWidth": 1}, "encoding": {}},
    {"data": {"name": "a33"}, "mark": {"type": "point", "shape": "circle", "filled": false, "color": "black", "opacity": 1, "size": 32}, "encoding": {"strokeWidth": {"condition": {"test": "datum.x >= 0.02", "value": 3.4}, "value": 1.2}}}
   ]},
  {"width": 230, "height": 224.5,
   "encoding": {"x": {"field": "x", "type": "quantitative", "scale": {"domain": [-0.04, 1.04], "nice": false, "zero": false}, "axis": {"title": "Empirical cdf of Aₙ²"}},
                "y": {"field": "y", "type": "quantitative", "scale": {"domain": [-0.04, 1.04], "nice": false, "zero": false}, "axis": {"title": null}}},
   "layer": [
    {"data": {"name": "diag"}, "mark": {"type": "line", "color": "black", "strokeWidth": 1}, "encoding": {}},
    {"data": {"name": "a34"}, "mark": {"type": "point", "shape": "circle", "filled": false, "color": "black", "opacity": 1, "size": 32}, "encoding": {"strokeWidth": {"condition": {"test": "datum.x >= 0.02", "value": 3.4}, "value": 1.2}}}
   ]}
]
}
